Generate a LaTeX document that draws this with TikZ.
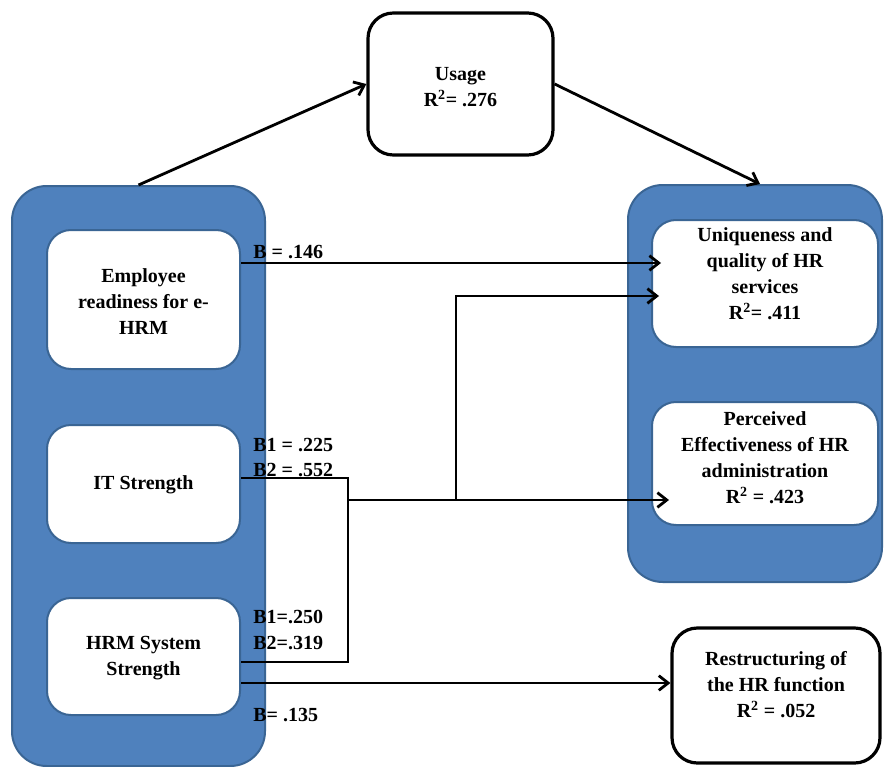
\documentclass[tikz,border=0pt]{standalone}
\usepackage{fontspec}
\setmainfont{Liberation Serif}
\usetikzlibrary{arrows.meta,calc}
\definecolor{hrblue}{HTML}{4F81BD}
\definecolor{hrblueedge}{HTML}{3A6594}
\newcommand{\Rsq}{R\textsuperscript{2}}
\begin{document}
\begin{tikzpicture}[x=0.75pt,y=-0.75pt,
  font=\bfseries\fontsize{15}{19.5}\selectfont,
  sz/.style 2 args={minimum width=#1*0.75pt, minimum height=#2*0.75pt},
  group/.style={draw=hrblueedge, line width=1.5pt, fill=hrblue, rounded corners=26pt, inner sep=0pt},
  inbox/.style={draw=hrblueedge, line width=1.5pt, fill=white, rounded corners=18pt, inner sep=0pt},
  blackbox/.style={draw=black, line width=2.4pt, fill=white, rounded corners=19pt, inner sep=0pt},
  txt/.style={align=center, inner sep=0pt},
  lbl/.style={anchor=west, inner sep=0pt},
  conn/.style={line width=2.1pt},
  arr/.style={conn, -{Straight Barb[length=7pt,width=11pt]}}
]
\useasboundingbox (0,0) rectangle (885,767);

% group containers
\node[group, sz={253}{580}] (lgrp) at (138.5,476) {};
\node[group, sz={254}{397}] (rgrp) at (755,383.5) {};

% boxes
\node[inbox, sz={193}{139}] (emp) at (143.5,299.5) {};
\node[inbox, sz={193}{118}] (its) at (143.5,484) {};
\node[inbox, sz={193}{117}] (hrm) at (143.5,656.5) {};
\node[inbox, sz={226}{127}] (uniq) at (765,283.5) {};
\node[inbox, sz={226}{123}] (perc) at (765,463.5) {};
\node[blackbox, sz={185}{142}] (usage) at (460.5,84) {};
\node[blackbox, sz={208}{135}] (restr) at (776,695.5) {};

% texts
\node[txt] (empT) at (143.5,302) {Employee\\readiness for e-\\HRM};
\node[txt] (itsT) at (143.5,485) {IT Strength};
\node[txt] (hrmT) at (143.5,658) {HRM System\\Strength};
\node[txt] (uniqT) at (765,274) {Uniqueness and\\quality of HR\\services\\\Rsq= .411};
\node[txt] (percT) at (765,457.5) {Perceived\\Effectiveness of HR\\administration\\\Rsq{} = .423};
\node[txt] (usageT) at (460.5,87.5) {Usage\\\Rsq= .276};
\node[txt] (restrT) at (776,685) {Restructuring of\\the HR function\\\Rsq{} = .052};

% coefficient labels
\node[lbl] (b146) at (253,252) {B = .146};
\node[lbl] (b1a) at (253,445) {B1 = .225};
\node[lbl] (b2a) at (253,470) {B2 = .552};
\node[lbl] (b1b) at (253,617) {B1=.250};
\node[lbl] (b2b) at (253,643) {B2=.319};
\node[lbl] (b135) at (253,715) {B= .135};

% connector points
\coordinate (empout) at ($(emp.east)+(0,-36.5)$);
\coordinate (uniqin1) at ($(uniq.west)+(10,0)$);
\coordinate (uniqin2) at ($(uniq.west)+(8,12.5)$);
\coordinate (percin) at ($(perc.west)+(18,0)$);
\coordinate (itout) at ($(its.east)+(0,-6)$);
\coordinate (hrmout1) at ($(hrm.east)+(0,5.5)$);
\coordinate (hrmout2) at ($(hrm.east)+(0,26.5)$);
\coordinate (jA) at (348,500);
\coordinate (jB) at (456,500);
\coordinate (rin) at ($(rgrp.north)+(5,0)$);

% connectors
\draw[arr] (lgrp.north) -- (usage.west);
\draw[arr] (usage.east) -- (rin);
\draw[arr] (empout) -- (empout -| uniqin1);
\draw[conn] (itout) -| (jA) |- (hrmout1);
\draw[arr] (jA) -- (jA -| percin);
\draw[arr] (jB) |- (uniqin2);
\draw[arr] (hrmout2) -- (hrmout2 -| restr.west);
\end{tikzpicture}
\end{document}
